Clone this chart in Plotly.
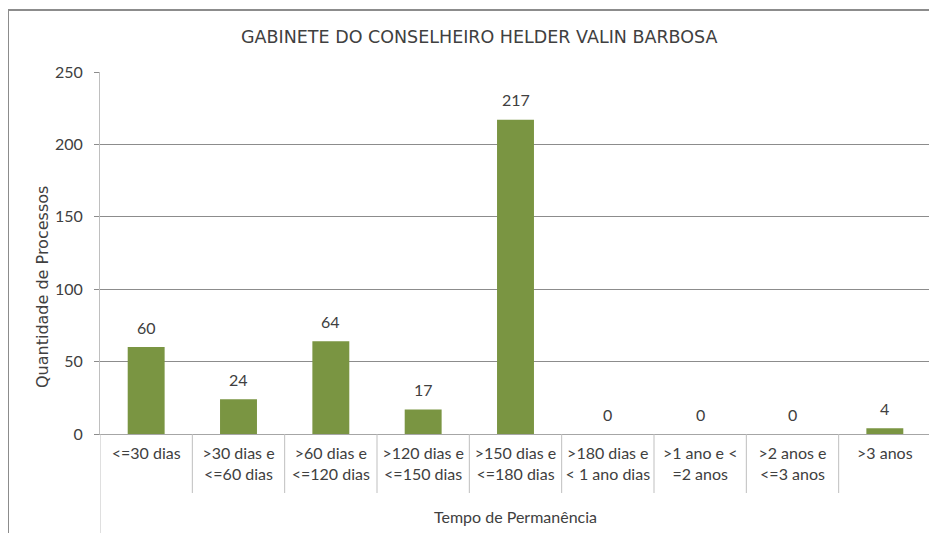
import plotly.graph_objects as go

categories = [
    "<=30 dias",
    ">30 dias e<br><=60 dias",
    ">60 dias e<br><=120 dias",
    ">120 dias e<br><=150 dias",
    ">150 dias e<br><=180 dias",
    ">180 dias e<br>< 1 ano dias",
    ">1 ano e <<br>=2 anos",
    ">2 anos e<br><=3 anos",
    ">3 anos",
]
values = [60, 24, 64, 17, 217, 0, 0, 0, 4]
y_ticks = [0, 50, 100, 150, 200, 250]

title_text = "GABINETE DO CONSELHEIRO HELDER VALIN BARBOSA"
y_title = "Quantidade de Processos"
x_title = "Tempo de Permanência"

OFF = 8  # page body margin
W, H = 937 - OFF, 533 - OFF
L, R, T, B = 100 - OFF, 6, 72 - OFF, 99
pw = W - L - R
ph = H - T - B

def px_x(p):
    return (p - OFF - L) / pw

def px_y(p):
    return (533 - B - p) / ph

bar_color = "#7A9542"
text_color = "#404040"
body_font = "Lato, Open Sans, sans-serif"
title_font = "DejaVu Sans, Lato, sans-serif"

n = len(categories)
xs = list(range(n))

fig = go.Figure()
fig.add_trace(go.Bar(
    x=xs,
    y=values,
    width=0.40,
    marker=dict(color=bar_color, line=dict(width=0)),
    cliponaxis=False,
))

shapes = []
for i in range(1, n):
    shapes.append(dict(type="line", xref="x", yref="paper",
                       x0=i - 0.5, x1=i - 0.5, y0=0, y1=px_y(493),
                       line=dict(color="#BFBFBF", width=1)))
for xb in (-0.5, n - 0.5):
    shapes.append(dict(type="line", xref="x", yref="paper",
                       x0=xb, x1=xb, y0=0, y1=px_y(540),
                       line=dict(color="#BFBFBF", width=1)))
# outer chart frame (left & top)
shapes.append(dict(type="line", xref="paper", yref="paper",
                   x0=px_x(8), x1=px_x(8), y0=px_y(10), y1=px_y(545),
                   line=dict(color="#8C8C8C", width=2)))
shapes.append(dict(type="line", xref="paper", yref="paper",
                   x0=px_x(8), x1=px_x(950), y0=px_y(10), y1=px_y(10),
                   line=dict(color="#8C8C8C", width=2)))

annotations = [
    dict(text=title_text, xref="paper", yref="paper", x=px_x(479), y=px_y(37),
         xanchor="center", yanchor="middle", showarrow=False,
         font=dict(size=17.5, color=text_color, family=title_font)),
    dict(text=y_title, xref="paper", yref="paper", x=px_x(42), y=px_y(287),
         xanchor="center", yanchor="middle", showarrow=False, textangle=-90,
         font=dict(size=16, color=text_color, family=title_font)),
    dict(text=x_title, xref="paper", yref="paper", x=px_x(515), y=px_y(517),
         xanchor="center", yanchor="middle", showarrow=False,
         font=dict(size=16, color=text_color, family=body_font)),
]
# data labels above bars
for xi, v in zip(xs, values):
    annotations.append(dict(text=str(v), x=xi, y=v, xref="x", yref="y",
                            xanchor="center", yanchor="middle", yshift=20,
                            showarrow=False,
                            font=dict(size=16, color=text_color, family=body_font)))

fig.update_layout(
    width=W, height=H,
    margin=dict(l=L, r=R, t=T, b=B, pad=0),
    paper_bgcolor="white", plot_bgcolor="white",
    showlegend=False,
    shapes=shapes,
    annotations=annotations,
    bargap=0.6,
)
fig.update_xaxes(
    tickmode="array", tickvals=xs, ticktext=categories,
    range=[-0.5, n - 0.5],
    showline=True, linecolor="#A6A6A6", linewidth=1,
    showgrid=False, ticks="", zeroline=False,
    tickfont=dict(size=16, color=text_color, family=body_font),
    tickangle=0, ticklabelstandoff=5,
)
fig.update_yaxes(
    range=[0, 250], tickvals=y_ticks,
    showgrid=True, gridcolor="#8C8C8C", gridwidth=1,
    showline=True, linecolor="#BFBFBF", linewidth=1,
    ticks="outside", ticklen=5, tickcolor="#8C8C8C",
    zeroline=False,
    tickfont=dict(size=16, color=text_color, family=body_font),
    ticklabelstandoff=8,
)

fig.write_html("out.html")
